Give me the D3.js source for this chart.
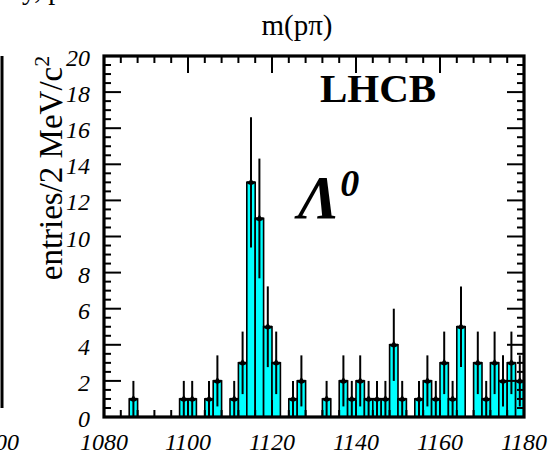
<!DOCTYPE html>
<html>
<head>
<meta charset="utf-8">
<script src="https://cdn.jsdelivr.net/npm/d3@7"></script>
<style>
  body { margin: 0; background: #fff; }
  svg text { font-family: "Liberation Serif", "Times New Roman", Times, serif; }
</style>
</head>
<body>
<svg id="chart" width="551" height="454"></svg>
<script>
// m(p pi) histogram, 2 MeV bins from 1080 to 1180
const binStart = 1080;
const binWidth = 2;
const counts = [0, 0, 0, 1, 0, 0, 0, 0, 0, 1,
                1, 0, 1, 2, 0, 1, 3, 13, 11, 5,
                3, 0, 1, 2, 0, 0, 1, 0, 2, 1,
                2, 1, 1, 1, 4, 1, 0, 1, 2, 1,
                3, 1, 5, 0, 3, 1, 3, 2, 3, 2];
const xTicks = [1080, 1100, 1120, 1140, 1160, 1180];
const yTicks = [0, 2, 4, 6, 8, 10, 12, 14, 16, 18, 20];

const bins = counts.map((n, i) => ({ x0: binStart + i * binWidth, x1: binStart + (i + 1) * binWidth, n }));

const svg = d3.select("#chart");
const x = d3.scaleLinear().domain([1080, 1180]).range([104, 524]);
const y = d3.scaleLinear().domain([0, 20]).range([417, 56]);

const fill = "#00ffff";

// bars
const filled = bins.filter(d => d.n > 0);
svg.append("g")
    .selectAll("rect")
    .data(filled)
    .join("rect")
    .attr("x", d => x(d.x0))
    .attr("y", d => y(d.n))
    .attr("width", d => x(d.x1) - x(d.x0))
    .attr("height", d => y(0) - y(d.n))
    .attr("fill", fill)
    .attr("stroke", "#000")
    .attr("stroke-width", 1.6);

// error bars (sqrt n)
const err = svg.append("g").attr("stroke", "#000");
err.selectAll("line.v")
    .data(filled)
    .join("line")
    .attr("class", "v")
    .attr("x1", d => x((d.x0 + d.x1) / 2))
    .attr("x2", d => x((d.x0 + d.x1) / 2))
    .attr("y1", d => y(Math.max(0, d.n - Math.sqrt(d.n))))
    .attr("y2", d => y(d.n + Math.sqrt(d.n)))
    .attr("stroke-width", 2);
err.selectAll("line.h")
    .data(filled)
    .join("line")
    .attr("class", "h")
    .attr("x1", d => x(d.x0))
    .attr("x2", d => x(d.x1))
    .attr("y1", d => y(d.n))
    .attr("y2", d => y(d.n))
    .attr("stroke-width", 2.2);
// little arrow-head markers
svg.append("g")
    .selectAll("path")
    .data(filled)
    .join("path")
    .attr("transform", d => `translate(${x((d.x0 + d.x1) / 2)},${y(d.n)})`)
    .attr("d", "M0,-4 L3.5,1.5 L0,3 L-3.5,1.5 Z")
    .attr("fill", "#000");

// ticks on all four sides, pointing inward
const minorX = d3.range(1080, 1181, 4);
const minorY = d3.range(0, 20.01, 0.5);
const tk = svg.append("g").attr("stroke", "#000").attr("stroke-width", 2);
const isMajX = v => v % 20 === 0;
const isMajY = v => v % 2 === 0;
tk.selectAll("line.b").data(minorX).join("line").attr("class", "b")
    .attr("x1", d => x(d)).attr("x2", d => x(d))
    .attr("y1", y(0)).attr("y2", d => y(0) - (isMajX(d) ? 17 : 7));
tk.selectAll("line.t").data(minorX).join("line").attr("class", "t")
    .attr("x1", d => x(d)).attr("x2", d => x(d))
    .attr("y1", y(20)).attr("y2", d => y(20) + (isMajX(d) ? 17 : 7));
tk.selectAll("line.l").data(minorY).join("line").attr("class", "l")
    .attr("y1", d => y(d)).attr("y2", d => y(d))
    .attr("x1", x(1080)).attr("x2", d => x(1080) + (isMajY(d) ? 17 : 7));
tk.selectAll("line.r").data(minorY).join("line").attr("class", "r")
    .attr("y1", d => y(d)).attr("y2", d => y(d))
    .attr("x1", x(1180)).attr("x2", d => x(1180) - (isMajY(d) ? 17 : 7));

// frame
svg.append("rect")
    .attr("x", x(1080)).attr("y", y(20))
    .attr("width", x(1180) - x(1080)).attr("height", y(0) - y(20))
    .attr("fill", "none").attr("stroke", "#000").attr("stroke-width", 3.2);

// tick labels
svg.append("g")
    .selectAll("text")
    .data(xTicks)
    .join("text")
    .attr("x", d => x(d))
    .attr("y", 450)
    .attr("text-anchor", "middle")
    .attr("font-style", "italic")
    .attr("font-size", 24)
    .text(d => d);
svg.append("g")
    .selectAll("text")
    .data(yTicks)
    .join("text")
    .attr("x", 90)
    .attr("y", d => y(d) + 10)
    .attr("text-anchor", "end")
    .attr("font-style", "italic")
    .attr("font-size", 24)
    .text(d => d);

// titles
svg.append("text")
    .attr("x", 297).attr("y", 35)
    .attr("text-anchor", "middle")
    .attr("font-size", 29)
    .text("m(pπ)");

svg.append("text")
    .attr("transform", "translate(62,168) rotate(-90)")
    .attr("text-anchor", "middle")
    .attr("font-size", 33)
    .text("entries/2 MeV/c")
    .append("tspan")
    .attr("dy", -13)
    .attr("font-size", 22)
    .text("2");

svg.append("text")
    .attr("x", 320).attr("y", 102)
    .attr("font-size", 41)
    .attr("font-weight", "bold")
    .text("LHCB");

const lam = svg.append("text")
    .attr("x", 298).attr("y", 218)
    .attr("font-size", 62)
    .attr("font-weight", "bold")
    .attr("font-style", "italic")
    .text("Λ");
lam.append("tspan")
    .attr("dy", -22)
    .attr("dx", 1)
    .attr("font-size", 38)
    .text("0");

// leftovers of the neighbouring panel
svg.append("line")
    .attr("x1", 2).attr("x2", 2).attr("y1", 56).attr("y2", 408)
    .attr("stroke", "#000").attr("stroke-width", 3);
svg.append("text")
    .attr("x", -5).attr("y", 450)
    .attr("text-anchor", "middle")
    .attr("font-style", "italic")
    .attr("font-size", 24)
    .text("1200");
svg.append("text")
    .attr("x", 22).attr("y", -1)
    .attr("font-size", 28)
    .text("y, p");
</script>
</body>
</html>
